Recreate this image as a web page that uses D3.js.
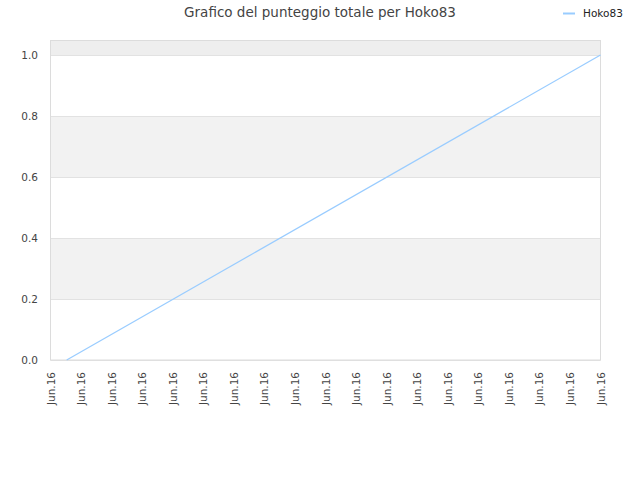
<!DOCTYPE html>
<html><head><meta charset="utf-8">
<script src="https://cdn.jsdelivr.net/npm/d3@7"></script>
<style>body{margin:0;background:#fff;}svg{display:block;font-family:"DejaVu Sans",sans-serif;}</style>
</head><body><svg id="c" width="640" height="480"></svg>
<script>
const tickLabels = Array.from({length:19}, () => "Jun.16");
const seriesName = "Hoko83";
const xValues = [0.53, 18];
const yValues = [0, 1];
const yTicks = [0, 0.2, 0.4, 0.6, 0.8, 1.0];

const svg = d3.select("#c");
const m = {l:50.5, r:600.5, t:40.5, b:360};
const x = d3.scaleLinear().domain([0, tickLabels.length-1]).range([m.l, m.r]);
const y = d3.scaleLinear().domain([0, 1.0475]).range([m.b, m.t]);

// bands
const bands = [[0.2,0.4,"#f2f2f2"],[0.6,0.8,"#f2f2f2"],[1.0,1.0475,"#eeeeee"]];
svg.selectAll("rect.band").data(bands).join("rect")
  .attr("x", m.l).attr("width", m.r-m.l)
  .attr("y", d=>y(d[1])).attr("height", d=>y(d[0])-y(d[1]))
  .attr("fill", d=>d[2]);
// grid
svg.selectAll("line.grid").data(yTicks).join("line")
  .attr("x1", m.l).attr("x2", m.r)
  .attr("y1", d=>Math.round(y(d))+0.5).attr("y2", d=>Math.round(y(d))+0.5)
  .attr("stroke", "#e2e2e2");
// border
svg.append("rect").attr("x", m.l).attr("y", m.t).attr("width", m.r-m.l).attr("height", m.b-m.t)
  .attr("fill","none").attr("stroke","#dcdcdc");

// y labels
svg.selectAll("text.yl").data(yTicks).join("text")
  .attr("x", 38).attr("y", d=>y(d)+4)
  .attr("text-anchor","end").attr("font-size", 10.5).attr("fill","#444")
  .text(d=>d.toFixed(1));
// x labels
svg.selectAll("text.xl").data(tickLabels).join("text")
  .attr("transform", (d,i)=>`translate(${x(i)+4},372) rotate(-90)`)
  .attr("text-anchor","end").attr("font-size", 10.5).attr("fill","#444")
  .text(d=>d);

// line
const pts = xValues.map((v,i)=>[v, yValues[i]]);
svg.append("path").datum(pts)
  .attr("d", d3.line().x(d=>x(d[0])).y(d=>y(d[1])))
  .attr("fill","none").attr("stroke","#99ccff").attr("stroke-width",1.2);

// title
svg.append("text").attr("x", 320).attr("y", 17).attr("text-anchor","middle")
  .attr("font-size", 13.5).attr("fill","#444").text("Grafico del punteggio totale per " + seriesName);
// legend
svg.append("line").attr("x1",563).attr("x2",575).attr("y1",13.5).attr("y2",13.5)
  .attr("stroke","#99ccff").attr("stroke-width",2);
svg.append("text").attr("x",583).attr("y",17).attr("font-size",10.5).attr("fill","#222").text(seriesName);
</script></body></html>
